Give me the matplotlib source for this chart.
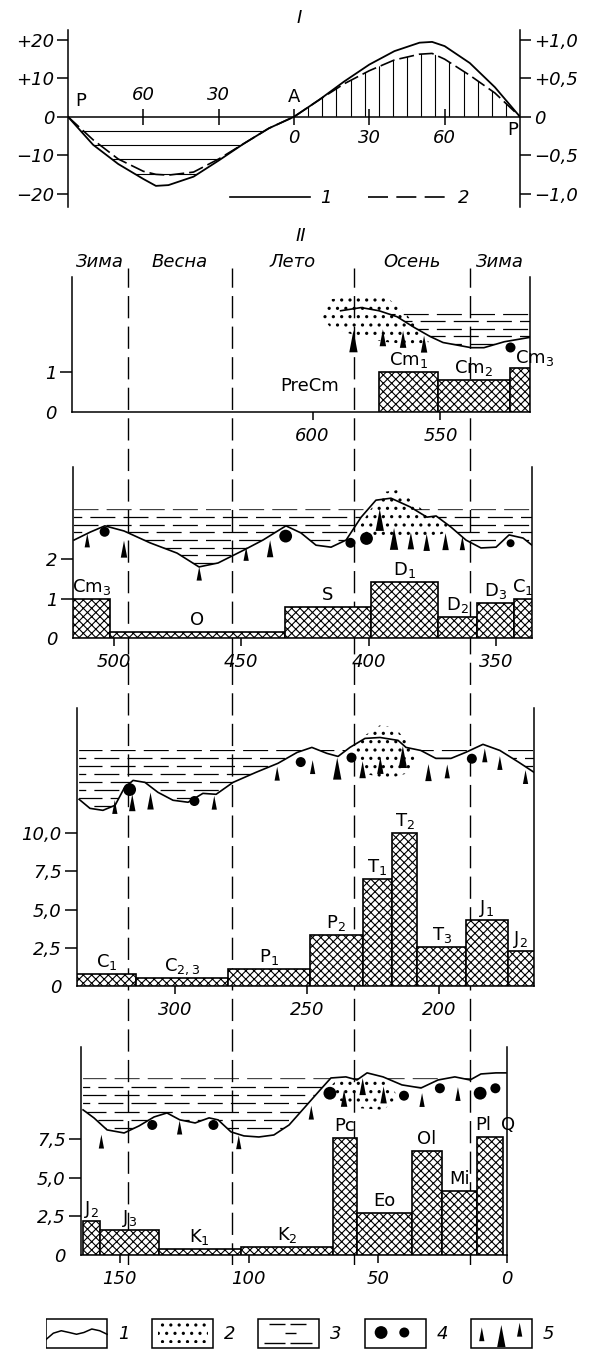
import numpy as np
import matplotlib
matplotlib.use("Agg")
import matplotlib.pyplot as plt
from matplotlib.lines import Line2D
from matplotlib.path import Path
from matplotlib.patches import PathPatch, Rectangle

W, H = 590, 1350
FS = 13

plt.rcParams["font.family"] = ["DejaVu Sans"]
plt.rcParams["mathtext.default"] = "regular"
plt.rcParams["hatch.linewidth"] = 0.8

# ---------------- part I: latitude curves ----------------
lat_deg = [-90, -80, -70, -60, -55, -50, -40, -30, -20, -10, 0,
           10, 20, 30, 40, 50, 55, 60, 70, 80, 90]
curve1 = [0, -7.3, -12.3, -16.2, -18.0, -17.8, -15.6, -11.4, -7.0, -3.0, 0,
          4.4, 9.2, 13.6, 17.1, 19.3, 19.5, 18.4, 14.0, 7.7, 0]
curve2 = [0, -0.30, -0.55, -0.71, -0.75, -0.76, -0.72, -0.55, -0.35, -0.15, 0,
          0.22, 0.43, 0.60, 0.74, 0.815, 0.825, 0.75, 0.54, 0.31, 0]
lat_ticks = [-60, -30, 0, 30, 60]
lat_tick_labels = ["60", "30", "0", "30", "60"]
left_ticks = [-20, -10, 0, 10, 20]
left_labels = ["\u221220", "\u221210", "0", "+10", "+20"]
right_ticks = [-1.0, -0.5, 0, 0.5, 1.0]
right_labels = ["\u22121,0", "\u22120,5", "0", "+0,5", "+1,0"]
SCALE = 20  # left units per right unit

# ---------------- part II: seasons ----------------
season_names = ["Зима", "Весна", "Лето", "Осень", "Зима"]
season_bounds = [0.122, 0.349, 0.616, 0.869]

# panel 1: PreCm - Cambrian
p1_bar_edges = [574, 551, 523, 515]
p1_bar_heights = [1.0, 0.8, 1.12]
p1_bar_names = ["Cm$_1$", "Cm$_2$", "Cm$_3$"]
p1_curve_age = [589, 581, 574, 567, 560, 554, 549, 538, 533, 525, 515]
p1_curve_lvl = [2.55, 2.63, 2.55, 2.40, 2.12, 1.90, 1.75, 1.62, 1.62, 1.77, 1.88]
p1_sea_top = 2.48
p1_sand_age = [597, 593, 581, 571, 565, 559, 554.5]
p1_sand_lo = [2.43, 2.13, 1.88, 1.76, 1.72, 1.72, 1.76]
p1_sand_hi = [2.43, 2.84, 2.93, 2.88, 2.59, 2.13, 1.76]
p1_tri_age = [584, 572.5, 564.6, 556.4]
p1_tri_lvl = [1.78, 1.87, 1.83, 1.71]
p1_tri_kind = [3, 2, 2, 2]
p1_dot_age = [523]
p1_dot_lvl = [1.63]
p1_dot_kind = [2]

# panel 2: Cambrian - Carboniferous
p2_bar_edges = [516, 501.5, 433, 399, 373, 357.5, 343, 336]
p2_bar_heights = [1.0, 0.15, 0.78, 1.42, 0.53, 0.88, 1.0]
p2_bar_names = ["Cm$_3$", "O", "S", "D$_1$", "D$_2$", "D$_3$", "C$_1$"]
p2_curve_age = [515.6, 509.3, 503.5, 496, 485.8, 475.2, 466.6, 459.1, 448.9, 441.5,
                432.5, 426.6, 420.7, 414.8, 408.9, 403, 397.2, 391.3, 383.8, 377.2,
                373.6, 367.8, 361.9, 356, 350.1, 345, 339.5, 336]
p2_curve_lvl = [2.48, 2.68, 2.84, 2.71, 2.41, 2.15, 1.80, 1.90, 2.23, 2.48,
                2.84, 2.66, 2.35, 2.30, 2.48, 3.06, 3.49, 3.54, 3.32, 3.06,
                3.09, 2.81, 2.48, 2.28, 2.30, 2.61, 2.53, 2.35]
p2_sea_top = 3.26
p2_sand_age = [404.6, 399.5, 394, 388.4, 383.2, 376.6, 370.7, 367.8]
p2_sand_lo = [2.73, 2.52, 2.52, 2.52, 2.52, 2.52, 2.65, 2.73]
p2_sand_hi = [2.73, 3.24, 3.70, 3.75, 3.49, 3.11, 2.99, 2.73]
p2_tri_age = [510.4, 496, 466.5, 448.1, 438.7, 395.7, 390.1, 383.5, 377.3, 369.9, 363.3]
p2_tri_lvl = [2.47, 2.25, 1.63, 2.13, 2.26, 2.99, 2.51, 2.46, 2.42, 2.44, 2.40]
p2_tri_kind = [1, 2, 1, 1, 2, 3, 3, 2, 2, 2, 1]
p2_dot_age = [503.6, 432.6, 407.2, 400.9, 344.4]
p2_dot_lvl = [2.69, 2.58, 2.41, 2.52, 2.40]
p2_dot_kind = [2, 3, 2, 3, 1]

# panel 3: Carboniferous - Jurassic
p3_bar_edges = [337, 314.6, 280, 249, 229, 218, 208.3, 190, 174, 164.2]
p3_bar_heights = [0.78, 0.52, 1.1, 3.33, 7.0, 10.0, 2.55, 4.3, 2.3]
p3_bar_names = ["C$_1$", "C$_{2,3}$", "P$_1$", "P$_2$", "T$_1$", "T$_2$", "T$_3$", "J$_1$", "J$_2$"]
p3_curve_age = [336.2, 332.1, 327.2, 322.6, 319.2, 315.8, 311.3, 306.4, 300.7, 295,
                289.4, 284.4, 278, 269.3, 261, 253.8, 248.2, 242.5, 238.3, 233.8,
                228.1, 222.4, 215.6, 212.6, 207, 201.3, 195.6, 190.1, 183.5, 177.1,
                169.9, 164.2]
p3_curve_lvl = [12.22, 11.63, 11.50, 11.83, 12.94, 13.46, 13.33, 12.68, 12.16, 12.03,
                12.61, 12.55, 13.33, 13.99, 14.58, 15.29, 15.62, 15.23, 15.03, 15.62,
                16.21, 16.27, 16.08, 15.62, 15.42, 14.90, 14.90, 15.29, 15.82, 15.42,
                14.64, 13.99]
p3_sea_top = 15.45
p3_sand_age = [232.5, 228.2, 222.6, 216.9, 212.6, 208.3]
p3_sand_lo = [15.2, 13.9, 13.68, 13.68, 13.9, 14.99]
p3_sand_hi = [15.2, 16.4, 17.06, 16.95, 16.08, 14.99]
p3_tri_age = [322.7, 316.1, 309.2, 285.1, 261.3, 247.9, 238.6, 229, 222.3, 213.8,
              204.1, 197, 182.8, 177.1, 167.4]
p3_tri_lvl = [11.72, 12.0, 12.11, 12.0, 13.9, 14.33, 14.23, 14.16, 14.44, 14.99,
              13.97, 14.05, 15.1, 14.6, 13.68]
p3_tri_kind = [1, 2, 2, 1, 1, 1, 3, 2, 2, 3, 2, 1, 1, 1, 1]
p3_dot_age = [317.1, 292.6, 252.4, 233.2, 187.7]
p3_dot_lvl = [12.86, 12.11, 14.66, 14.95, 14.88]
p3_dot_kind = [3, 2, 2, 2, 2]

# panel 4: Jurassic - Quaternary
p4_bar_edges = [164.3, 157.6, 134.9, 103, 67.4, 58.1, 36.8, 25.2, 11.6, 1.6]
p4_bar_heights = [2.2, 1.6, 0.4, 0.5, 7.6, 2.7, 6.75, 4.15, 7.66]
p4_bar_names = ["J$_2$", "J$_3$", "K$_1$", "K$_2$", "Pc", "Eo", "Ol", "Mi", "Pl"]
p4_curve_age = [164.2, 160, 154.9, 148.3, 142.5, 136.7, 131.7, 126.7, 120.8, 115.4,
                111.9, 106.9, 101.9, 96.1, 90.3, 84.4, 78.2, 72.4, 68.2, 62.4,
                58.1, 54.2, 48.0, 40.7, 33.3, 26.7, 20.2, 14.3, 10.1, 4.3, 0.4]
p4_curve_lvl = [9.42, 8.9, 8.12, 7.92, 8.38, 8.96, 9.22, 8.77, 8.57, 8.90,
                8.77, 7.99, 7.73, 7.66, 7.79, 8.44, 9.61, 10.71, 11.49, 11.56,
                11.36, 11.82, 11.56, 11.04, 10.84, 11.36, 11.56, 11.36, 11.75, 11.82, 11.82]
p4_sea_top = 11.47
p4_sand_age = [69.7, 65.4, 56.6, 47.8, 42]
p4_sand_lo = [10.7, 10.06, 9.52, 9.42, 10.28]
p4_sand_hi = [10.7, 11.47, 11.47, 11.47, 10.28]
p4_tri_age = [157.1, 126.8, 103.9, 75.8, 63.1, 55.9, 47.8, 32.9, 19]
p4_tri_lvl = [7.36, 8.27, 7.32, 9.24, 10.17, 10.93, 10.39, 10.06, 10.45]
p4_tri_kind = [1, 1, 1, 1, 2, 2, 2, 1, 1]
p4_dot_age = [137.4, 113.7, 68.6, 39.9, 26, 10.4, 4.5]
p4_dot_lvl = [8.44, 8.44, 10.5, 10.34, 10.82, 10.5, 10.82]
p4_dot_kind = [2, 2, 3, 2, 2, 3, 2]

TRI = [(-0.38, -1), (0.38, -1), (0, 1), (-0.38, -1)]
TRI_S = {1: 100, 2: 150, 3: 250}
DOT_S = {1: 33, 2: 52, 3: 85}
SEA_DASH = (20, 6.5)


def px_rect(left, top, right, bottom):
    return [left / W, 1 - bottom / H, (right - left) / W, (bottom - top) / H]


def region_patch(ax, x, y, base=0.0):
    verts = [(x[0], base)] + list(zip(x, y)) + [(x[-1], base)]
    p = PathPatch(Path(verts), transform=ax.transData, fc="none", ec="none")
    ax.add_patch(p)
    return p


fig = plt.figure(figsize=(W / 100, H / 100), dpi=100)

# ---------------- part I ----------------
ax1 = fig.add_axes(px_rect(68, 30, 520, 207))
ax1.set_facecolor("none")
lat = np.array(lat_deg, dtype=float)
c1 = np.array(curve1)
c2 = np.array(curve2) * SCALE
ax1.set_xlim(-90, 90)
ax1.set_ylim(-23.5, 22.6)
neg = lat <= 0
pos = lat >= 0
lp = region_patch(ax1, lat[neg], c1[neg])
hl = ax1.hlines(np.arange(1, 5) * -3.7, -90, 0, colors="k", lw=0.8)
hl.set_clip_path(lp)
rp = region_patch(ax1, lat[pos], c2[pos])
vl = ax1.vlines(np.arange(1, 16) * 90 / 16, 0, 22, colors="k", lw=0.8)
vl.set_clip_path(rp)
ax1.plot(lat, c1, color="k", lw=1.3)
ax1.plot(lat, c2, color="k", lw=1.2, ls=(0, (9, 3)))
ax1.axhline(0, color="k", lw=1.1)
ax1.plot(lat_ticks, np.zeros(len(lat_ticks)), ls="none", marker="|", ms=11,
         mew=1.1, color="k")
for t, lab in zip(lat_ticks, lat_tick_labels):
    dy = 9 if t < 0 else -9
    ax1.annotate(lab, (t, 0), xytext=(0, dy), textcoords="offset points",
                 ha="center", va="bottom" if t < 0 else "top",
                 fontsize=FS, fontstyle="italic")
ax1.annotate("P", (-90, 0), xytext=(5, 5), textcoords="offset points",
             ha="left", va="bottom", fontsize=FS)
ax1.annotate("A", (0, 0), xytext=(0, 8), textcoords="offset points",
             ha="center", va="bottom", fontsize=FS)
ax1.annotate("P", (90, 0), xytext=(-1, -3), textcoords="offset points",
             ha="right", va="top", fontsize=FS)
for s in ("top", "bottom", "right"):
    ax1.spines[s].set_visible(False)
ax1.spines["left"].set_linewidth(1.1)
ax1.set_xticks([])
ax1.set_yticks(left_ticks, left_labels, fontsize=FS, fontstyle="italic")
ax1.tick_params(axis="y", direction="out", length=8, width=1.1, pad=2)

ax1r = ax1.twinx()
ax1r.set_ylim(-23.5 / SCALE, 22.6 / SCALE)
for s in ("top", "bottom", "left"):
    ax1r.spines[s].set_visible(False)
ax1r.spines["right"].set_linewidth(1.1)
ax1r.set_yticks(right_ticks, right_labels, fontsize=FS, fontstyle="italic")
ax1r.tick_params(axis="y", direction="out", length=8, width=1.1, pad=2)

handles = [Line2D([], [], color="k", lw=1.2),
           Line2D([], [], color="k", lw=1.2, ls=(0, (12, 5)))]
ax1.legend(handles, ["1", "2"], loc="center", bbox_to_anchor=(0.624, 0.05),
           ncol=2, frameon=False, handlelength=4.4, handletextpad=0.6,
           columnspacing=2.0, prop={"size": FS, "style": "italic"})

fig.text(299 / W, 1 - 18 / H, "I", ha="center", va="center", fontsize=FS,
         fontstyle="italic")
fig.text(301 / W, 1 - 236 / H, "II", ha="center", va="center", fontsize=FS,
         fontstyle="italic")

# ---------------- part II: season lines ----------------
ov = fig.add_axes(px_rect(72, 250, 530, 1265))
ov.set_xlim(0, 1)
ov.set_ylim(0, 1)
ov.axis("off")
for b in season_bounds:
    ov.axvline(b, ymin=0, ymax=0.982, color="k", lw=1.0, ls=(0, (16, 6)))
edges = [0] + season_bounds + [1]
for i, name in enumerate(season_names):
    ov.text((edges[i] + edges[i + 1]) / 2, 0.988, name, ha="center", va="center",
            fontsize=FS, fontstyle="italic")


def make_panel(rect, xlim, ylim, xticks, yticks, ylabels):
    ax = fig.add_axes(px_rect(*rect))
    ax.set_facecolor("none")
    ax.set_xlim(*xlim)
    ax.set_ylim(*ylim)
    ax.spines["top"].set_visible(False)
    for s in ("left", "right", "bottom"):
        ax.spines[s].set_linewidth(1.1)
    ax.set_xticks(xticks, [str(t) for t in xticks], fontsize=FS, fontstyle="italic")
    ax.set_yticks(yticks, ylabels, fontsize=FS, fontstyle="italic")
    ax.tick_params(axis="x", direction="out", length=6, width=1.1, pad=5)
    ax.tick_params(axis="y", direction="out", length=9, width=1.1, pad=2)
    ax.yaxis.get_major_ticks()[0].tick1line.set_visible(False)
    return ax


def draw_bars(ax, bar_edges, heights, names, shifts=None):
    e = np.asarray(bar_edges, dtype=float)
    young, old = e[1:], e[:-1]
    ax.bar(young, heights, width=old - young, align="edge", facecolor="white",
           edgecolor="k", hatch="xxxx", lw=1.2, zorder=3)
    shifts = shifts or {}
    for i, (n, h) in enumerate(zip(names, heights)):
        dx, dy = shifts.get(i, (0, 0))
        ax.annotate(n, ((young[i] + old[i]) / 2, h), xytext=(dx, 5 + dy),
                    textcoords="offset points", ha="center", va="baseline",
                    fontsize=FS, zorder=5)


def draw_profile(ax, age, lvl, sea_top, step, sand_age, sand_lo, sand_hi,
                 tri_age, tri_lvl, tri_kind, dot_age, dot_lvl, dot_kind):
    age = np.asarray(age, dtype=float)
    lvl = np.asarray(lvl, dtype=float)
    # sea region: between the relief line and the sea surface
    pa, pl = [], []
    for i in range(len(age)):
        if i > 0 and (lvl[i - 1] - sea_top) * (lvl[i] - sea_top) < 0:
            f = (sea_top - lvl[i - 1]) / (lvl[i] - lvl[i - 1])
            pa.append(age[i - 1] + f * (age[i] - age[i - 1]))
            pl.append(sea_top)
        pa.append(age[i])
        pl.append(min(lvl[i], sea_top))
    verts = list(zip(pa, pl)) + [(a, sea_top) for a in pa[::-1]]
    clip = PathPatch(Path(verts), transform=ax.transData, fc="none", ec="none")
    ax.add_patch(clip)
    x0, x1 = ax.get_xlim()
    levels = np.arange(sea_top, lvl.min(), -step)
    for k, lv in enumerate(levels):
        off = 0 if k % 2 == 0 else 13
        ln = ax.hlines(lv, x0, x1, colors="k", lw=0.9,
                       linestyles=[(off, SEA_DASH)], zorder=2)
        ln.set_clip_path(clip)
    with plt.rc_context({"hatch.linewidth": 1.1}):
        ax.fill_between(sand_age, sand_lo, sand_hi, facecolor="none",
                        edgecolor="k", hatch="..", lw=0, zorder=2)
    ax.plot(age, lvl, color="k", lw=1.2, zorder=4)
    ax.scatter(tri_age, tri_lvl, s=[TRI_S[k] for k in tri_kind], marker=TRI,
               color="k", lw=0, zorder=5)
    ax.scatter(dot_age, dot_lvl, s=[DOT_S[k] for k in dot_kind], marker="o",
               color="k", lw=0, zorder=5)


# panel 1
a = make_panel((72, 277, 530, 412), (694, 515), (0, 3.4), [600, 550],
               [0, 1], ["0", "1"])
draw_bars(a, p1_bar_edges, p1_bar_heights, p1_bar_names, {2: (11, -2)})
a.text(601, 0.65, "PreCm", ha="center", va="center", fontsize=FS)
draw_profile(a, p1_curve_age, p1_curve_lvl, p1_sea_top, 0.19,
             p1_sand_age, p1_sand_lo, p1_sand_hi,
             p1_tri_age, p1_tri_lvl, p1_tri_kind,
             p1_dot_age, p1_dot_lvl, p1_dot_kind)

# panel 2
a = make_panel((73, 467, 532, 638), (516, 336), (0, 4.33), [500, 450, 400, 350],
               [0, 1, 2], ["0", "1", "2"])
draw_bars(a, p2_bar_edges, p2_bar_heights, p2_bar_names)
draw_profile(a, p2_curve_age, p2_curve_lvl, p2_sea_top, 0.195,
             p2_sand_age, p2_sand_lo, p2_sand_hi,
             p2_tri_age, p2_tri_lvl, p2_tri_kind,
             p2_dot_age, p2_dot_lvl, p2_dot_kind)

# panel 3
a = make_panel((77, 708, 534, 986), (337, 164.2), (0, 18.2), [300, 250, 200],
               [0, 2.5, 5, 7.5, 10], ["0", "2,5", "5,0", "7,5", "10,0"])
draw_bars(a, p3_bar_edges, p3_bar_heights, p3_bar_names)
draw_profile(a, p3_curve_age, p3_curve_lvl, p3_sea_top, 0.52,
             p3_sand_age, p3_sand_lo, p3_sand_hi,
             p3_tri_age, p3_tri_lvl, p3_tri_kind,
             p3_dot_age, p3_dot_lvl, p3_dot_kind)

# panel 4
a = make_panel((81, 1047, 507, 1255), (165, 0), (0, 13.5), [150, 100, 50, 0],
               [0, 2.5, 5, 7.5], ["0", "2,5", "5,0", "7,5"])
draw_bars(a, p4_bar_edges, p4_bar_heights, p4_bar_names, {8: (-5, 0)})
a.annotate("Q", (0, p4_bar_heights[-1]), xytext=(1, 5), textcoords="offset points",
           ha="center", va="baseline", fontsize=FS)
draw_profile(a, p4_curve_age, p4_curve_lvl, p4_sea_top, 0.54,
             p4_sand_age, p4_sand_lo, p4_sand_hi,
             p4_tri_age, p4_tri_lvl, p4_tri_kind,
             p4_dot_age, p4_dot_lvl, p4_dot_kind)

# ---------------- bottom legend ----------------
lg = fig.add_axes(px_rect(46, 1315, 577, 1350))
lg.set_xlim(0, 5)
lg.set_ylim(0, 1)
lg.axis("off")
bw = 0.575
for i in range(5):
    lg.add_patch(Rectangle((i, 0.06), bw, 0.82, fill=False, lw=1.1, ec="k"))
    lg.text(i + bw + 0.1, 0.45, str(i + 1), fontsize=FS, fontstyle="italic",
            va="center", ha="left")
wx = np.array([0.0, 0.12, 0.25, 0.38, 0.5, 0.62, 0.75, 0.88, 1.0])
wy = [0.3, 0.48, 0.55, 0.5, 0.45, 0.5, 0.6, 0.55, 0.45]
lg.plot(wx * bw, wy, color="k", lw=1.1)
with plt.rc_context({"hatch.linewidth": 1.1}):
    lg.add_patch(Rectangle((1 + 0.05, 0.2), bw - 0.1, 0.6, facecolor="none",
                           edgecolor="k", hatch="..", lw=0))
lg.hlines([0.75, 0.75, 0.5, 0.2, 0.2],
          [2.1, 2.3, 2.25, 2.05, 2.3], [2.25, 2.45, 2.35, 2.25, 2.5],
          colors="k", lw=1.0)
lg.scatter([3 + 0.27 * bw, 3 + 0.65 * bw], [0.5, 0.5], s=[DOT_S[3], DOT_S[2]],
           color="k", lw=0)
lg.scatter([4 + 0.18 * bw, 4 + 0.5 * bw, 4 + 0.8 * bw], [0.45, 0.4, 0.58],
           s=[TRI_S[1], TRI_S[3], TRI_S[1]], marker=TRI, color="k", lw=0)

fig.savefig("out.png", dpi=100)
plt.close(fig)
